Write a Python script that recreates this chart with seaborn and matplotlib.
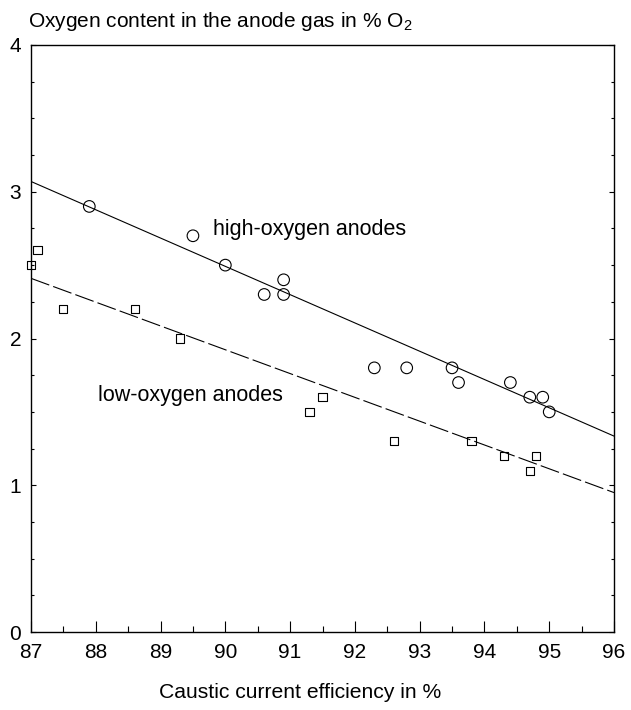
import matplotlib
matplotlib.use("Agg")
import matplotlib.pyplot as plt
import seaborn as sns
import pandas as pd
from matplotlib.ticker import MultipleLocator

# ---- data ----
high_x = [87.9, 89.5, 90.0, 90.6, 90.9, 90.9, 92.3, 92.8, 93.5, 93.6, 94.4, 94.7, 94.9, 95.0]
high_y = [2.9, 2.7, 2.5, 2.3, 2.4, 2.3, 1.8, 1.8, 1.8, 1.7, 1.7, 1.6, 1.6, 1.5]
low_x = [87.0, 87.1, 87.5, 88.6, 89.3, 91.3, 91.5, 92.6, 93.8, 94.3, 94.7, 94.8]
low_y = [2.5, 2.6, 2.2, 2.2, 2.0, 1.5, 1.6, 1.3, 1.3, 1.2, 1.1, 1.2]
fit_x = [87.0, 96.0]
high_fit = [3.07, 1.335]
low_fit = [2.41, 0.95]
x_ticks = [87, 88, 89, 90, 91, 92, 93, 94, 95, 96]
y_ticks = [0, 1, 2, 3, 4]
title = "Oxygen content in the anode gas in % O$_2$"
xlabel = "Caustic current efficiency in %"
high_label = "high-oxygen anodes"
low_label = "low-oxygen anodes"

sns.set_theme(style="white")
plt.rcParams["font.family"] = ["Liberation Sans", "DejaVu Sans"]
plt.rcParams["mathtext.fontset"] = "custom"
plt.rcParams["mathtext.rm"] = "Liberation Sans"
plt.rcParams["mathtext.default"] = "regular"
plt.rcParams["lines.scale_dashes"] = False
plt.rcParams["text.color"] = "black"
plt.rcParams["axes.labelcolor"] = "black"
plt.rcParams["xtick.color"] = "black"
plt.rcParams["ytick.color"] = "black"

fig = plt.figure(figsize=(6.31, 7.10), dpi=100)
ax = fig.add_axes([31 / 631, 1 - 632 / 710, (614 - 31) / 631, (632 - 45) / 710])

high_df = pd.DataFrame({"x": high_x, "y": high_y})
low_df = pd.DataFrame({"x": low_x, "y": low_y})

sns.lineplot(x=fit_x, y=high_fit, ax=ax, color="black", linewidth=0.8)
sns.lineplot(x=fit_x, y=low_fit, ax=ax, color="black", linewidth=0.8,
             linestyle=(0, (14, 3)))

sns.scatterplot(data=high_df, x="x", y="y", ax=ax, marker="o", s=70,
                facecolor="none", edgecolor="black", linewidth=0.8, clip_on=False, zorder=3)
sns.scatterplot(data=low_df, x="x", y="y", ax=ax, marker="s", s=34,
                facecolor="none", edgecolor="black", linewidth=0.8, clip_on=False, zorder=3)

ax.set_xlim(87, 96)
ax.set_ylim(0, 4)
ax.set_xticks(x_ticks)
ax.set_yticks(y_ticks)
ax.xaxis.set_minor_locator(MultipleLocator(0.5))
ax.yaxis.set_minor_locator(MultipleLocator(0.25))
ax.tick_params(axis="x", which="major", direction="in", length=8, width=0.8,
               pad=8, labelsize=15, colors="black", bottom=True, top=False)
ax.tick_params(axis="x", which="minor", direction="in", length=4.3, width=0.8,
               bottom=True, top=False)
ax.tick_params(axis="y", which="major", direction="in", length=3.6, width=0.8,
               pad=7, labelsize=15, colors="black", left=True, right=True)
ax.tick_params(axis="y", which="minor", direction="in", length=2.2, width=0.8,
               left=True, right=True)
ax.set_xlabel("")
ax.set_ylabel("")
for sp in ax.spines.values():
    sp.set_visible(True)
    sp.set_color("black")
    sp.set_linewidth(1.0)

ax.text(89.81, 2.705, high_label, fontsize=15.5, ha="left", va="baseline", color="black")
ax.text(88.04, 1.571, low_label, fontsize=15.5, ha="left", va="baseline", color="black")

fig.text(28 / 631, 1 - 27 / 710, title, fontsize=15, ha="left", va="baseline", color="black")
fig.text(300 / 631, 1 - 692 / 710, xlabel, fontsize=15.2, ha="center", va="center", color="black")

fig.savefig("out.png", dpi=100, facecolor="white")
